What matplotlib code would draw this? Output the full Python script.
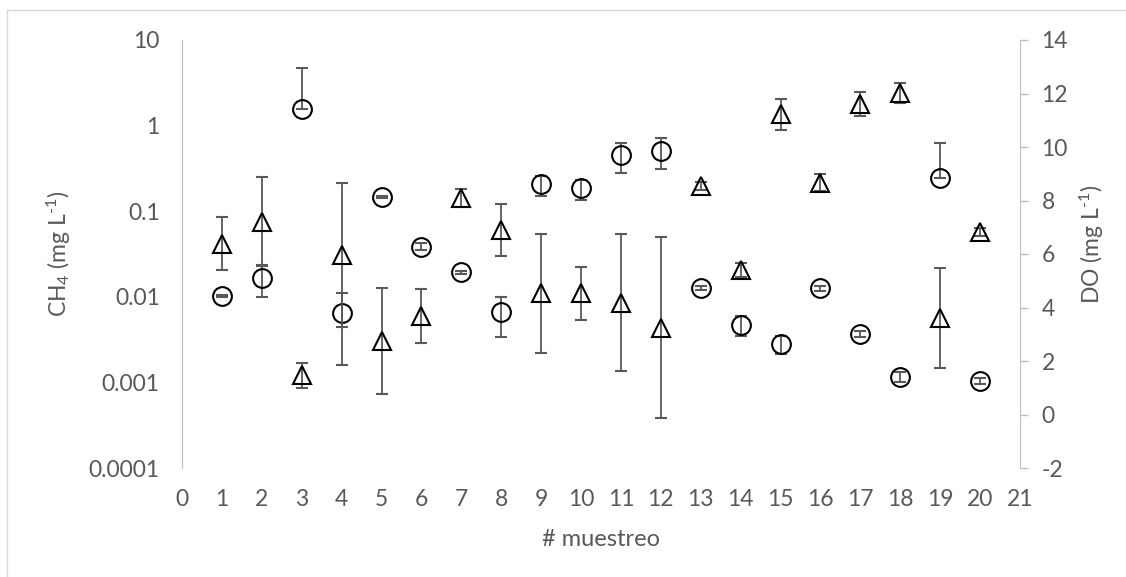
import matplotlib.pyplot as plt
from matplotlib.lines import Line2D

plt.rcParams['font.family'] = ['Lato', 'DejaVu Sans']
plt.rcParams['mathtext.fontset'] = 'custom'
plt.rcParams['mathtext.rm'] = 'Lato'
plt.rcParams['mathtext.default'] = 'regular'
plt.rcParams['axes.unicode_minus'] = False

# datos
muestreo = list(range(1, 21))
ch4 = [0.0103, 0.0167, 1.55, 0.0064, 0.145, 0.0385, 0.0193, 0.0067, 0.206, 0.185,
       0.454, 0.509, 0.0126, 0.0047, 0.0028, 0.0126, 0.0037, 0.00117, 0.242, 0.00105]
ch4_sd = [0.0003, 0.0068, 3.16, 0.0048, 0.004, 0.0035, 0.0006, 0.0033, 0.054, 0.049,
          0.173, 0.20, 0.0007, 0.00125, 0.00066, 0.0008, 0.0003, 0.00017, 0.379, 0.00009]
do = [6.39, 7.21, 1.46, 5.96, 2.76, 3.69, 8.09, 6.90, 4.53, 4.53,
      4.18, 3.25, 8.54, 5.40, 11.23, 8.67, 11.60, 12.03, 3.60, 6.81]
do_sd = [1.00, 1.66, 0.47, 2.68, 1.98, 1.01, 0.34, 0.96, 2.23, 0.99,
         2.57, 3.38, 0.16, 0.25, 0.58, 0.32, 0.45, 0.37, 1.88, 0.15]

log_ticks = [0.0001, 0.001, 0.01, 0.1, 1, 10]
log_labels = ['0.0001', '0.001', '0.01', '0.1', '1', '10']

gris = '#595959'
eje = '#bfbfbf'
fs = 16.5

W, H = 1126, 577
fig = plt.figure(figsize=(W / 100, H / 100), dpi=100)
ax = fig.add_axes([182 / W, 1 - 468 / H, (1020 - 182) / W, (468 - 40) / H])
ax2 = ax.twinx()

# en escala log Excel no dibuja la parte negativa de la barra
ch4_lo = [0 if s >= v else s for v, s in zip(ch4, ch4_sd)]

estilo = dict(mfc='none', mec='black', mew=1.5, ms=13.5, ecolor=gris,
              elinewidth=1.3, capsize=4, capthick=1.3, linestyle='none')
ax.errorbar(muestreo, ch4, yerr=[ch4_lo, ch4_sd], marker='o', **estilo)
ax2.errorbar(muestreo, do, yerr=do_sd, marker='^', **estilo)

ax.set_yscale('log')
ax.set_ylim(1e-4, 10)
ax.set_xlim(0, 21)
ax.set_yticks(log_ticks)
ax.set_yticklabels(log_labels)
ax.minorticks_off()
ax.set_xticks(range(0, 22))
ax2.set_ylim(-2, 14)
ax2.set_yticks(range(-2, 15, 2))

for a in (ax, ax2):
    for s in a.spines.values():
        s.set_visible(False)
ax.spines['left'].set_visible(True)
ax.spines['left'].set_color(eje)
ax2.spines['right'].set_visible(True)
ax2.spines['right'].set_color(eje)

ax.tick_params(axis='y', length=0, pad=16, labelsize=fs, labelcolor=gris)
ax.tick_params(axis='x', length=0, pad=15, labelsize=fs, labelcolor=gris)
ax2.tick_params(axis='y', length=5.5, width=1, color=eje, pad=10,
                labelsize=fs, labelcolor=gris)

fig.text(59 / W, 1 - 254 / H, r'CH$_4$ (mg L$^{\text{-1}}$)', rotation=90,
         ha='center', va='center', fontsize=fs, color=gris)
fig.text(1092 / W, 1 - 244 / H, r'DO (mg L$^{\text{-1}}$)', rotation=90,
         ha='center', va='center', fontsize=fs, color=gris)
fig.text(601 / W, 1 - 539 / H, '# muestreo', ha='center', va='center',
         fontsize=fs + 0.5, color=gris)

# borde del area del grafico
fig.add_artist(Line2D([7 / W, 1], [1 - 10 / H, 1 - 10 / H], color='#d9d9d9', lw=1))
fig.add_artist(Line2D([7 / W, 7 / W], [0, 1 - 10 / H], color='#d9d9d9', lw=1))

fig.savefig('out.png', dpi=100)
